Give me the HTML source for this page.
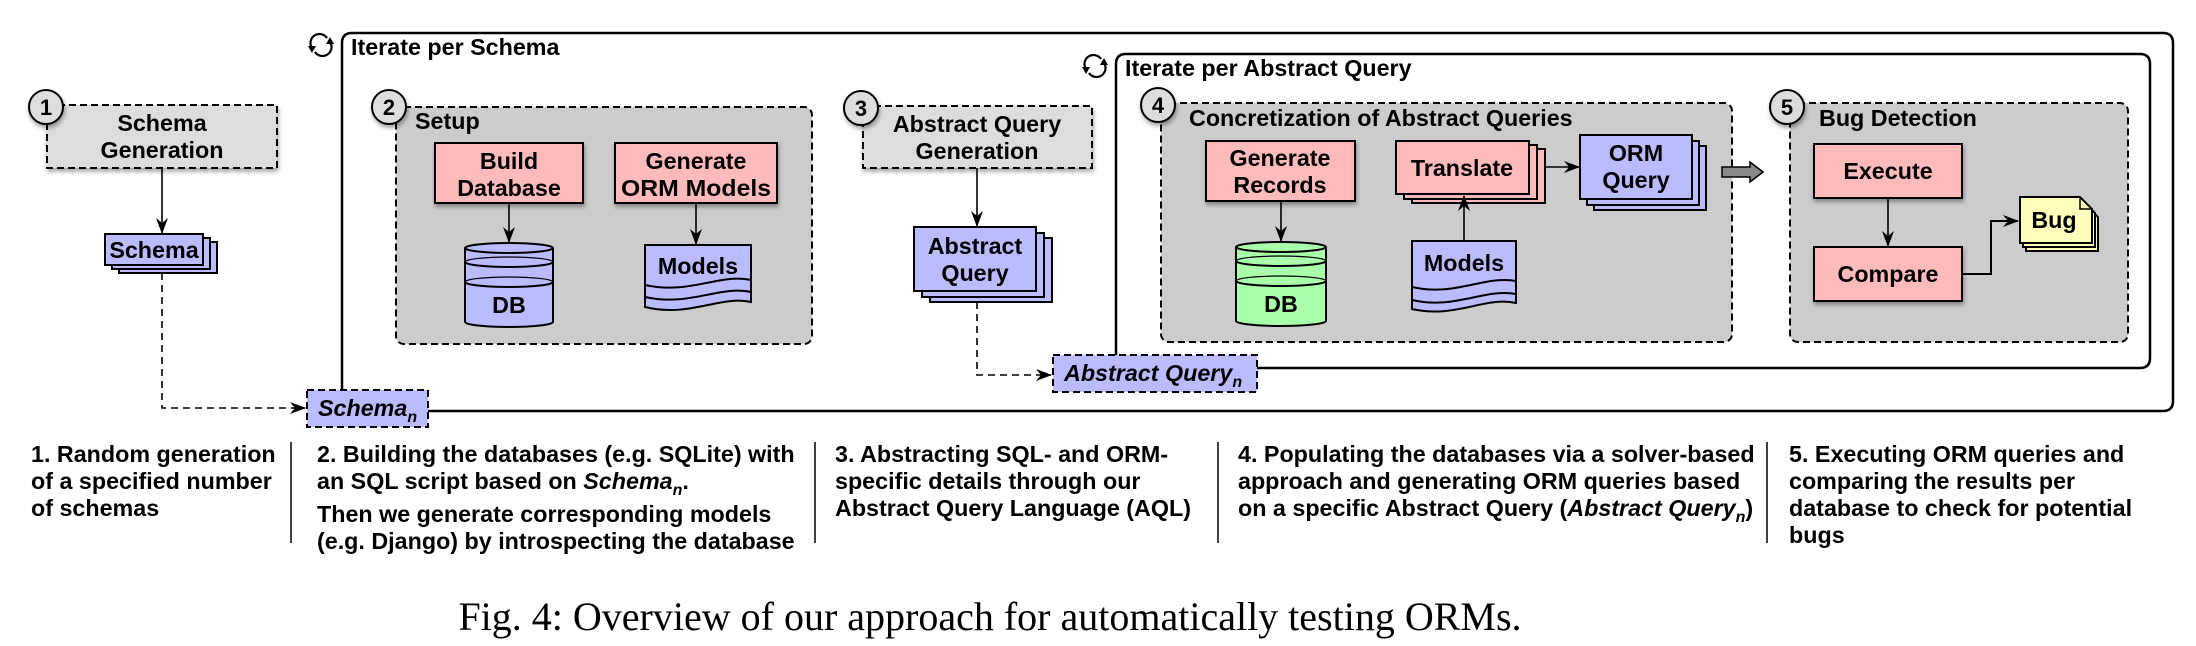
<!DOCTYPE html>
<html><head><meta charset="utf-8"><style>
html,body{margin:0;padding:0;background:#fff;}
svg{display:block}
text{font-family:"Liberation Sans",Arial,sans-serif;font-weight:bold;}
</style></head><body>
<svg width="2196" height="646" viewBox="0 0 2196 646" xmlns="http://www.w3.org/2000/svg">
<defs>
<marker id="ah" markerWidth="16" markerHeight="12" refX="15" refY="6" orient="auto" markerUnits="userSpaceOnUse">
<path d="M0,0 L16,6 L0,12 L5,6 Z" fill="#000"/>
</marker>
<filter id="sh" x="-10%" y="-10%" width="130%" height="140%">
<feDropShadow dx="1" dy="3" stdDeviation="2" flood-color="#000" flood-opacity="0.35"/>
</filter>
<g id="cyc">
<path d="M-9,3 A9,9 0 0 1 6,-7" fill="none" stroke="#000" stroke-width="2.2"/>
<path d="M9,-3 A9,9 0 0 1 -6,7" fill="none" stroke="#000" stroke-width="2.2"/>
<path d="M-13,1 L-5,1 L-9,8 Z" fill="#000"/>
<path d="M13,-1 L5,-1 L9,-8 Z" fill="#000"/>
</g>
</defs>

<g font-size="23.3">
<!-- Outer iterate box -->
<path d="M342,411 L342,43 Q342,33 352,33 L2163,33 Q2173,33 2173,43 L2173,401 Q2173,411 2163,411 Z" fill="none" stroke="#000" stroke-width="2.5"/>
<use href="#cyc" x="321" y="45"/>
<text x="351" y="55">Iterate per Schema</text>

<!-- Inner iterate box -->
<path d="M1116,368 L1116,64 Q1116,54 1126,54 L2140,54 Q2150,54 2150,64 L2150,358 Q2150,368 2140,368 Z" fill="none" stroke="#000" stroke-width="2.5"/>
<use href="#cyc" x="1095" y="66"/>
<text x="1125" y="76">Iterate per Abstract Query</text>

<!-- 1 Schema Generation -->
<rect x="47" y="105" width="230" height="63" fill="#dddddd" stroke="#000" stroke-width="2" stroke-dasharray="7,4" filter="url(#sh)"/>
<text x="162" y="131" text-anchor="middle">Schema</text>
<text x="162" y="158" text-anchor="middle">Generation</text>
<circle cx="46" cy="107" r="17" fill="#dddddd" stroke="#000" stroke-width="2" filter="url(#sh)"/>
<text x="46" y="115" font-size="22" text-anchor="middle" font-weight="normal">1</text>
<line x1="162" y1="168" x2="162" y2="233" stroke="#000" stroke-width="1.6" marker-end="url(#ah)"/>
<rect x="119" y="242" width="98" height="31" fill="#bbbbff" stroke="#000" stroke-width="2"/>
<rect x="112" y="238" width="98" height="31" fill="#bbbbff" stroke="#000" stroke-width="2"/>
<rect x="105" y="234" width="98" height="31" fill="#bbbbff" stroke="#000" stroke-width="2"/>
<text x="154" y="258" text-anchor="middle">Schema</text>
<polyline points="162,273 162,408 305,408" fill="none" stroke="#000" stroke-width="1.6" stroke-dasharray="7,5" marker-end="url(#ah)"/>
<rect x="307" y="390" width="121" height="37" fill="#bbbbff" stroke="#000" stroke-width="2" stroke-dasharray="7,4"/>
<text x="318" y="416" font-style="italic">Schema<tspan font-size="16" dy="6">n</tspan></text>

<!-- 2 Setup -->
<rect x="396" y="107" width="416" height="237" rx="8" fill="#cccccc" stroke="#000" stroke-width="2" stroke-dasharray="7,4"/>
<circle cx="389" cy="107" r="17" fill="#dddddd" stroke="#000" stroke-width="2" filter="url(#sh)"/>
<text x="389" y="115" font-size="22" text-anchor="middle" font-weight="normal">2</text>
<text x="415" y="129">Setup</text>
<rect x="435" y="143" width="148" height="60" fill="#ffbbbb" stroke="#000" stroke-width="2" filter="url(#sh)"/>
<text x="509" y="169" text-anchor="middle">Build</text>
<text x="509" y="196" text-anchor="middle">Database</text>
<rect x="615" y="143" width="162" height="60" fill="#ffbbbb" stroke="#000" stroke-width="2" filter="url(#sh)"/>
<text x="696" y="169" text-anchor="middle">Generate</text>
<text x="696" y="196" text-anchor="middle" textLength="150" lengthAdjust="spacingAndGlyphs">ORM Models</text>
<line x1="509" y1="203" x2="509" y2="242" stroke="#000" stroke-width="1.6" marker-end="url(#ah)"/>
<line x1="696" y1="203" x2="696" y2="244" stroke="#000" stroke-width="1.6" marker-end="url(#ah)"/>
<path d="M465,248 L465,322 A44,5 0 0 0 553,322 L553,248" fill="#bbbbff" stroke="#000" stroke-width="2"/>
<ellipse cx="509" cy="248" rx="44" ry="5" fill="#bbbbff" stroke="#000" stroke-width="2"/>
<path d="M465,262 A44,5 0 0 0 553,262 M465,282 A44,5 0 0 0 553,282" fill="none" stroke="#000" stroke-width="2"/>
<path d="M465,262 A44,5 0 0 1 553,262 M465,282 A44,5 0 0 1 553,282" fill="none" stroke="#000" stroke-width="1.2"/>
<text x="509" y="313" text-anchor="middle">DB</text>
<path d="M645,245 L751,245 L751,302 C720,295 690,318 645,307 Z" fill="#bbbbff" stroke="#000" stroke-width="2"/>
<path d="M645,285 C690,295 720,273 751,280 M645,297 C690,307 720,285 751,292" fill="none" stroke="#000" stroke-width="2"/>
<text x="698" y="274" text-anchor="middle">Models</text>

<!-- 3 Abstract Query Generation -->
<rect x="863" y="106" width="229" height="62" fill="#dddddd" stroke="#000" stroke-width="2" stroke-dasharray="7,4" filter="url(#sh)"/>
<text x="977" y="132" text-anchor="middle">Abstract Query</text>
<text x="977" y="159" text-anchor="middle">Generation</text>
<circle cx="861" cy="108" r="17" fill="#dddddd" stroke="#000" stroke-width="2" filter="url(#sh)"/>
<text x="861" y="116" font-size="22" text-anchor="middle" font-weight="normal">3</text>
<line x1="977" y1="168" x2="977" y2="226" stroke="#000" stroke-width="1.6" marker-end="url(#ah)"/>
<rect x="930" y="238" width="122" height="64" fill="#bbbbff" stroke="#000" stroke-width="2"/>
<rect x="922" y="233" width="122" height="64" fill="#bbbbff" stroke="#000" stroke-width="2"/>
<rect x="914" y="227" width="122" height="64" fill="#bbbbff" stroke="#000" stroke-width="2"/>
<text x="975" y="254" text-anchor="middle">Abstract</text>
<text x="975" y="281" text-anchor="middle">Query</text>
<polyline points="977,302 977,375 1051,375" fill="none" stroke="#000" stroke-width="1.6" stroke-dasharray="7,5" marker-end="url(#ah)"/>
<rect x="1053" y="355" width="204" height="37" fill="#bbbbff" stroke="#000" stroke-width="2" stroke-dasharray="7,4"/>
<text x="1064" y="381" font-style="italic">Abstract Query<tspan font-size="16" dy="6">n</tspan></text>

<!-- 4 Concretization -->
<rect x="1161" y="103" width="571" height="239" rx="8" fill="#cccccc" stroke="#000" stroke-width="2" stroke-dasharray="7,4"/>
<circle cx="1158" cy="105" r="17" fill="#dddddd" stroke="#000" stroke-width="2" filter="url(#sh)"/>
<text x="1158" y="113" font-size="22" text-anchor="middle" font-weight="normal">4</text>
<text x="1189" y="126">Concretization of Abstract Queries</text>
<rect x="1206" y="141" width="149" height="60" fill="#ffbbbb" stroke="#000" stroke-width="2" filter="url(#sh)"/>
<text x="1280" y="166" text-anchor="middle">Generate</text>
<text x="1280" y="193" text-anchor="middle">Records</text>
<line x1="1281" y1="201" x2="1281" y2="241" stroke="#000" stroke-width="1.6" marker-end="url(#ah)"/>
<path d="M1236,247 L1236,321 A45,5 0 0 0 1326,321 L1326,247" fill="#aaffaa" stroke="#000" stroke-width="2"/>
<ellipse cx="1281" cy="247" rx="45" ry="5" fill="#aaffaa" stroke="#000" stroke-width="2"/>
<path d="M1236,261 A45,5 0 0 0 1326,261 M1236,281 A45,5 0 0 0 1326,281" fill="none" stroke="#000" stroke-width="2"/>
<path d="M1236,261 A45,5 0 0 1 1326,261 M1236,281 A45,5 0 0 1 1326,281" fill="none" stroke="#000" stroke-width="1.2"/>
<text x="1281" y="312" text-anchor="middle">DB</text>
<rect x="1412" y="149" width="133" height="54" fill="#ffbbbb" stroke="#000" stroke-width="2"/>
<rect x="1404" y="145" width="133" height="54" fill="#ffbbbb" stroke="#000" stroke-width="2"/>
<rect x="1396" y="141" width="133" height="53" fill="#ffbbbb" stroke="#000" stroke-width="2"/>
<text x="1462" y="176" text-anchor="middle">Translate</text>
<line x1="1545" y1="167" x2="1579" y2="167" stroke="#000" stroke-width="1.6" marker-end="url(#ah)"/>
<rect x="1594" y="146" width="112" height="64" fill="#bbbbff" stroke="#000" stroke-width="2"/>
<rect x="1587" y="141" width="112" height="64" fill="#bbbbff" stroke="#000" stroke-width="2"/>
<rect x="1580" y="135" width="112" height="64" fill="#bbbbff" stroke="#000" stroke-width="2"/>
<text x="1636" y="161" text-anchor="middle">ORM</text>
<text x="1636" y="188" text-anchor="middle">Query</text>
<path d="M1412,241 L1516,241 L1516,303 C1485,296 1455,319 1412,309 Z" fill="#bbbbff" stroke="#000" stroke-width="2"/>
<path d="M1412,287 C1455,297 1485,275 1516,281 M1412,300 C1455,310 1485,288 1516,294" fill="none" stroke="#000" stroke-width="2"/>
<text x="1464" y="271" text-anchor="middle">Models</text>
<line x1="1464" y1="241" x2="1464" y2="196" stroke="#000" stroke-width="1.6" marker-end="url(#ah)"/>
<path d="M1722,167 L1750,167 L1750,162 L1763,172 L1750,182 L1750,177 L1722,177 Z" fill="#888" stroke="#000" stroke-width="1.5"/>

<!-- 5 Bug Detection -->
<rect x="1790" y="103" width="338" height="239" rx="8" fill="#cccccc" stroke="#000" stroke-width="2" stroke-dasharray="7,4"/>
<circle cx="1787" cy="107" r="17" fill="#dddddd" stroke="#000" stroke-width="2" filter="url(#sh)"/>
<text x="1787" y="115" font-size="22" text-anchor="middle" font-weight="normal">5</text>
<text x="1819" y="126">Bug Detection</text>
<rect x="1814" y="144" width="148" height="54" fill="#ffbbbb" stroke="#000" stroke-width="2" filter="url(#sh)"/>
<text x="1888" y="179" text-anchor="middle">Execute</text>
<rect x="1814" y="247" width="148" height="54" fill="#ffbbbb" stroke="#000" stroke-width="2" filter="url(#sh)"/>
<text x="1888" y="282" text-anchor="middle">Compare</text>
<line x1="1888" y1="198" x2="1888" y2="246" stroke="#000" stroke-width="1.6" marker-end="url(#ah)"/>
<polyline points="1962,274 1991,274 1991,221 2018,221" fill="none" stroke="#000" stroke-width="2" marker-end="url(#ah)"/>
<path d="M2026,205 L2086,205 L2098,217 L2098,251 L2026,251 Z" fill="#ffffbb" stroke="#000" stroke-width="2"/>
<path d="M2023,201 L2083,201 L2095,213 L2095,247 L2023,247 Z" fill="#ffffbb" stroke="#000" stroke-width="2"/>
<path d="M2020,197 L2080,197 L2092,209 L2092,243 L2020,243 Z" fill="#ffffbb" stroke="#000" stroke-width="2"/>
<path d="M2080,197 L2080,209 L2092,209" fill="none" stroke="#000" stroke-width="1.5"/>
<text x="2054" y="228" text-anchor="middle">Bug</text>

<!-- Descriptions -->
<text x="31" y="462">1. Random generation</text>
<text x="31" y="489">of a specified number</text>
<text x="31" y="516">of schemas</text>

<text x="317" y="462">2. Building the databases (e.g. SQLite) with</text>
<text x="317" y="489">an SQL script based on <tspan font-style="italic">Schema</tspan><tspan font-style="italic" font-size="16" dy="6">n</tspan><tspan dy="-6">.</tspan></text>
<text x="317" y="522">Then we generate corresponding models</text>
<text x="317" y="549">(e.g. Django) by introspecting the database</text>

<text x="835" y="462">3. Abstracting SQL- and ORM-</text>
<text x="835" y="489">specific details through our</text>
<text x="835" y="516">Abstract Query Language (AQL)</text>

<text x="1238" y="462">4. Populating the databases via a solver-based</text>
<text x="1238" y="489">approach and generating ORM queries based</text>
<text x="1238" y="516">on a specific Abstract Query (<tspan font-style="italic">Abstract Query</tspan><tspan font-style="italic" font-size="16" dy="6">n</tspan><tspan dy="-6">)</tspan></text>

<text x="1789" y="462">5. Executing ORM queries and</text>
<text x="1789" y="489">comparing the results per</text>
<text x="1789" y="516">database to check for potential</text>
<text x="1789" y="543">bugs</text>
</g>
<g stroke="#000" stroke-width="1.5">
<line x1="291" y1="442" x2="291" y2="543"/>
<line x1="815" y1="442" x2="815" y2="543"/>
<line x1="1218" y1="442" x2="1218" y2="543"/>
<line x1="1767" y1="442" x2="1767" y2="543"/>
</g>
<text x="990" y="630" font-size="40" text-anchor="middle" style="font-family:'Liberation Serif','Times New Roman',serif;font-weight:normal">Fig. 4: Overview of our approach for automatically testing ORMs.</text>
</svg>
</body></html>
